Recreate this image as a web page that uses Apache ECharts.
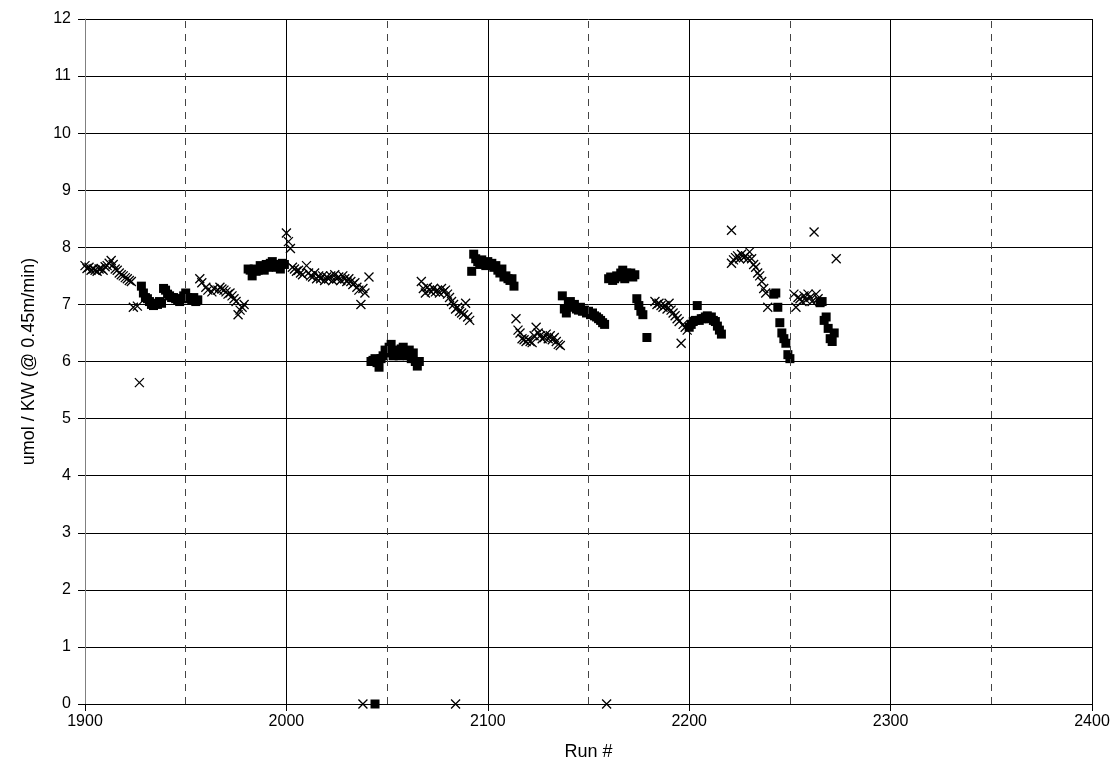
<!DOCTYPE html>
<html>
<head>
<meta charset="utf-8">
<script src="https://cdn.jsdelivr.net/npm/echarts@6/dist/echarts.min.js"></script>
<style>
  html, body { margin: 0; padding: 0; background: #fff; }
  #chart { width: 1117px; height: 774px; }
</style>
</head>
<body>
<div id="chart"></div>
<script>
// Run numbers and yields for the "x" marker series
const crossRuns = [
  1900,1901,1902,1903,1904,1905,1906,1907,1908,1909,1910,1911,1912,1913,1914,1915,1916,1917,1918,1919,1920,1921,1922,1923,
  1924,1926,1927,
  1957,1958,1960,1961,1963,1964,1966,1967,1968,1969,1970,1971,1972,1973,1974,1975,1976,1977,1978,1979,
  2000,2001,2002,2003,2004,2005,2006,2007,2008,2010,2011,2012,2013,2014,2015,2016,2017,2018,2019,2020,2021,2022,2023,2024,
  2025,2026,2027,2028,2029,2030,2031,2032,2033,2034,2035,2036,2037,2038,2039,2041,
  2067,2068,2069,2070,2071,2072,2073,2074,2075,2076,2077,2078,2079,2080,2081,2082,2083,2084,2085,2086,2087,2088,2089,2090,2091,
  2114,2115,2116,2117,2118,2119,2120,2121,2122,2123,2124,2125,2126,2127,2128,2129,2130,2131,2132,2133,2134,2135,2136,
  2183,2184,2185,2186,2187,2188,2189,2190,2191,2192,2193,2194,2195,2196,2197,2198,2199,
  2221,2221,2222,2223,2224,2225,2226,2227,2228,2229,2230,2231,2232,2233,2234,2235,2236,2237,2238,2239,
  2252,2253,2254,2255,2256,2257,2258,2259,2260,2261,2262,2263,2264,2273,
  2038,2084,2159
];
const crossVals = [
  7.68,7.63,7.65,7.60,7.62,7.60,7.58,7.62,7.63,7.60,7.66,7.68,7.72,7.77,7.70,7.62,7.60,7.55,7.52,7.50,7.47,7.45,7.42,7.40,
  6.95,6.97,5.63,
  7.45,7.38,7.30,7.25,7.22,7.28,7.25,7.30,7.27,7.25,7.22,7.18,7.20,7.15,7.10,7.05,6.82,6.90,6.95,7.00,
  8.25,8.10,7.98,7.65,7.62,7.58,7.60,7.55,7.52,7.68,7.55,7.50,7.48,7.55,7.45,7.50,7.45,7.50,7.42,7.48,7.45,7.50,7.42,7.52,
  7.45,7.48,7.42,7.50,7.45,7.40,7.45,7.40,7.35,7.38,7.30,7.25,7.00,7.28,7.20,7.48,
  7.40,7.28,7.20,7.30,7.25,7.22,7.28,7.22,7.25,7.20,7.28,7.22,7.25,7.18,7.12,7.05,7.00,6.92,6.95,6.88,6.85,6.82,7.02,6.78,6.72,
  6.75,6.55,6.50,6.40,6.38,6.35,6.38,6.35,6.33,6.45,6.60,6.50,6.45,6.40,6.42,6.48,6.40,6.45,6.38,6.42,6.35,6.30,6.28,
  7.05,7.00,7.02,6.98,6.95,6.98,6.92,7.02,6.90,6.85,6.80,6.75,6.70,6.32,6.65,6.60,6.55,
  8.30,7.72,7.78,7.82,7.85,7.80,7.88,7.82,7.85,7.80,7.92,7.80,7.70,7.65,7.55,7.50,7.40,7.28,7.20,6.95,
  7.18,6.95,7.12,7.10,7.05,7.15,7.08,7.18,7.12,7.05,8.27,7.18,7.10,7.80,
  0,0,0
];

// Run numbers and yields for the filled-square series
const squareRuns = [
  1928,1929,1930,1931,1932,1933,1934,1935,1936,1937,1938,1939,1940,1941,1942,1943,1944,1945,1946,1947,1948,1949,1950,1951,1952,1953,1954,1955,1956,
  1981,1982,1983,1984,1985,1986,1987,1988,1989,1990,1991,1992,1993,1994,1995,1996,1997,1998,1999,
  2042,2043,2044,2045,2046,2047,2048,2049,2050,2051,2052,2053,2054,2055,2056,2057,2058,2059,2060,2061,2062,2063,2064,2065,2066,
  2092,2093,2094,2095,2096,2097,2098,2099,2100,2101,2102,2103,2104,2105,2106,2107,2108,2109,2110,2111,2112,2113,
  2137,2138,2139,2140,2141,2142,2143,2144,2145,2146,2147,2148,2149,2150,2151,2152,2153,2154,2155,2156,2157,2158,
  2160,2161,2162,2163,2164,2165,2166,2167,2168,2169,2170,2171,2172,2173,2174,2175,2176,2177,2179,
  2200,2201,2202,2203,2204,2205,2206,2207,2208,2209,2210,2211,2212,2213,2214,2215,2216,
  2242,2243,2244,2245,2246,2247,2248,2249,2250,
  2265,2266,2267,2268,2269,2270,2271,2272,
  2044
];
const squareVals = [
  7.32,7.20,7.12,7.10,7.05,7.00,6.98,7.02,7.00,7.05,7.02,7.28,7.25,7.18,7.15,7.12,7.12,7.10,7.08,7.05,7.10,7.15,7.20,7.12,7.10,7.08,7.12,7.05,7.08,
  7.62,7.60,7.50,7.62,7.58,7.60,7.68,7.65,7.60,7.70,7.65,7.72,7.75,7.70,7.65,7.68,7.62,7.72,7.70,
  6.00,6.02,6.05,5.98,5.90,6.05,6.10,6.20,6.15,6.25,6.30,6.10,6.20,6.15,6.10,6.22,6.25,6.15,6.10,6.20,6.05,6.15,6.00,5.92,6.00,
  7.58,7.88,7.80,7.75,7.70,7.78,7.72,7.68,7.75,7.70,7.72,7.65,7.68,7.60,7.55,7.62,7.48,7.50,7.45,7.42,7.45,7.32,
  7.15,6.92,6.85,7.00,7.05,6.95,7.00,6.92,6.90,6.95,6.88,6.90,6.85,6.88,6.82,6.85,6.80,6.78,6.75,6.72,6.68,6.65,
  7.45,7.48,7.42,7.45,7.50,7.48,7.55,7.60,7.45,7.55,7.50,7.55,7.48,7.52,7.10,6.98,6.88,6.82,6.42,
  6.60,6.65,6.70,6.72,6.98,6.72,6.75,6.75,6.78,6.80,6.75,6.78,6.72,6.70,6.62,6.55,6.48,
  7.18,7.20,6.95,6.68,6.50,6.40,6.32,6.12,6.05,
  7.03,7.05,6.72,6.78,6.58,6.40,6.35,6.50,
  0
];

// Axis ranges and the half-way run markers drawn as dashed lines
const xTicks = [1900, 2000, 2100, 2200, 2300, 2400];
const yTicks = [0,1,2,3,4,5,6,7,8,9,10,11,12];
const dashedRuns = [1950, 2050, 2150, 2250, 2350];

const crossData = crossRuns.map((r, i) => [r, crossVals[i]]);
const squareData = squareRuns.map((r, i) => [r, squareVals[i]]);

const FONT = '"Liberation Sans", Arial, sans-serif';

const chart = echarts.init(document.getElementById('chart'), null, { renderer: 'canvas' });
chart.setOption({
  animation: false,
  backgroundColor: '#ffffff',
  textStyle: { fontFamily: FONT },
  grid: { left: 85, right: 25, top: 19, bottom: 70, containLabel: false },
  xAxis: {
    type: 'value',
    min: xTicks[0],
    max: xTicks[xTicks.length - 1],
    interval: 100,
    name: 'Run #',
    nameLocation: 'middle',
    nameGap: 39,
    nameTextStyle: { fontSize: 18, color: '#000', fontFamily: FONT },
    axisLine: { show: true, onZero: false, lineStyle: { color: '#000', width: 1 } },
    axisTick: { show: true, inside: false, length: 7, lineStyle: { color: '#000' } },
    axisLabel: { fontSize: 16, color: '#000', margin: 10, fontFamily: FONT, formatter: v => String(v) },
    splitLine: { show: true, lineStyle: { color: '#000', width: 1 } }
  },
  yAxis: {
    type: 'value',
    min: yTicks[0],
    max: yTicks[yTicks.length - 1],
    interval: 1,
    name: 'umol / KW (@ 0.45m/min)',
    nameLocation: 'middle',
    nameGap: 47,
    nameTextStyle: { fontSize: 18, color: '#000', fontFamily: FONT },
    axisLine: { show: true, lineStyle: { color: '#808080', width: 1 } },
    axisTick: { show: true, inside: false, length: 7, lineStyle: { color: '#000' } },
    axisLabel: { fontSize: 16, color: '#000', margin: 14, fontFamily: FONT },
    splitLine: { show: true, lineStyle: { color: '#000', width: 1 } }
  },
  series: [
    {
      name: 'squares',
      type: 'scatter',
      symbol: 'rect',
      symbolSize: 9,
      itemStyle: { color: '#000', opacity: 1 },
      data: squareData,
      markLine: {
        silent: true,
        symbol: ['none', 'none'],
        label: { show: false },
        lineStyle: { color: '#444', width: 1, type: [7, 6] },
        data: dashedRuns.map(r => ({ xAxis: r }))
      },
      z: 3
    },
    {
      name: 'crosses',
      type: 'scatter',
      symbol: 'path://M0,0L10,10M10,0L0,10',
      symbolSize: 9,
      itemStyle: { color: 'transparent', borderColor: '#000', borderWidth: 1.3, opacity: 1 },
      data: crossData,
      z: 4
    }
  ]
});
</script>
</body>
</html>
